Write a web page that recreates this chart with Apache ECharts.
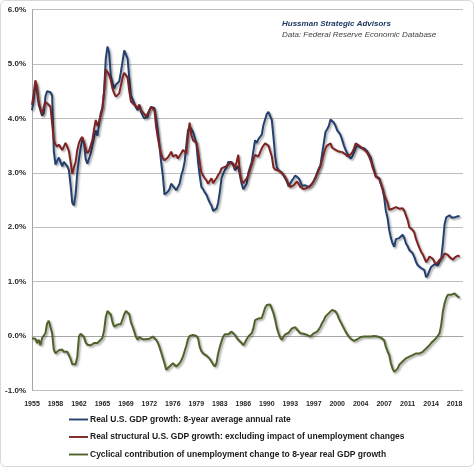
<!DOCTYPE html>
<html>
<head>
<meta charset="utf-8">
<script src="https://cdn.jsdelivr.net/npm/echarts@6/dist/echarts.min.js"></script>
<style>html,body{margin:0;padding:0;background:#fff}#chart{width:474px;height:467px}</style>
</head>
<body>
<div id="chart"></div>
<script>
// Quarterly categories 1955Q1 .. 2019Q2 (data through 2018Q4)
const firstYear = 1955, lastYear = 2019;
const quarters = [];
for (let y = firstYear; y <= lastYear; y++) {
  for (let q = 1; q <= 4; q++) {
    if (y === lastYear && q > 2) break;
    quarters.push(y + ' Q' + q);
  }
}

// Real U.S. GDP growth: 8-year average annual rate (%), quarterly 1955Q1-2018Q4
const gdpGrowth8y = [
  4.15, 4.35, 4.65, 4.5,   4.25, 4.15, 4.05, 4.1,   4.4, 4.5, 4.5, 4.48,    4.42, 3.4, 3.15, 3.22,
  3.28, 3.25, 3.12, 3.2,   3.22, 3.12, 3.05, 2.78,  2.45, 2.4, 2.6, 3.0,    3.25, 3.45, 3.62, 3.55,
  3.25, 3.17, 3.2, 3.35,   3.5, 3.65, 3.78, 3.68,   3.9, 4.1, 4.2, 4.5,     5.1, 5.32, 5.2, 4.78,
  4.65, 4.55, 4.62, 4.65,  4.68, 4.85, 5.05, 5.25,  5.28, 5.1, 4.75, 4.42,  4.35, 4.28, 4.2, 4.15,
  4.25, 4.12, 4.05, 4.0,   3.97, 4.03, 4.15, 4.21,  4.2, 4.19, 4.0, 3.78,   3.5, 3.2, 2.95, 2.6,
  2.58, 2.65, 2.7, 2.8,    2.78, 2.72, 2.68, 2.7,   2.8, 2.95, 3.05, 3.2,   3.5, 3.78, 3.85, 3.8,
  3.75, 3.65, 3.55, 3.2,   2.95, 2.74, 2.7, 2.64,   2.6, 2.52, 2.45, 2.4,   2.3, 2.3, 2.34, 2.45,
  2.65, 2.9, 2.98, 3.05,   3.1, 3.2, 3.23, 3.2,     3.14, 3.05, 3.08, 3.12, 2.95, 2.8, 2.7, 2.68,
  2.8, 3.0, 3.1, 3.2,      3.4, 3.6, 3.55, 3.62,    3.66, 3.7, 3.88, 3.98,  4.08, 4.12, 4.1, 3.97,
  3.65, 3.3, 3.1, 3.05,    3.02, 3.0, 2.99, 2.9,    2.84, 2.75, 2.72, 2.86, 2.9, 2.95, 2.98, 2.9,
  2.84, 2.76, 2.74, 2.77,  2.76, 2.74, 2.76, 2.8,   2.85, 2.92, 3.0, 3.08,  3.14, 3.35, 3.55, 3.75,
  3.8, 3.86, 3.98, 3.95,   3.92, 3.86, 3.78, 3.74,  3.69, 3.6, 3.5, 3.42,   3.36, 3.3, 3.26, 3.3,
  3.33, 3.45, 3.5, 3.48,   3.46, 3.45, 3.45, 3.42,  3.39, 3.33, 3.28, 3.15, 3.05, 2.93, 2.92, 2.9,
  2.8, 2.7, 2.55, 2.3,     2.17, 1.95, 1.8, 1.7,    1.64, 1.78, 1.77, 1.8,  1.83, 1.86, 1.8, 1.7,
  1.65, 1.58, 1.56, 1.52,  1.45, 1.36, 1.3, 1.27,   1.25, 1.23, 1.21, 1.08, 1.12, 1.2, 1.27, 1.3,
  1.32, 1.34, 1.3, 1.28,   1.42, 1.7, 2.05, 2.18,   2.2, 2.22, 2.18, 2.17,  2.18, 2.19, 2.2, 2.2
];

// Real structural U.S. GDP growth (%), quarterly 1955Q1-2018Q4
const structuralGrowth = [
  4.25, 4.45, 4.7, 4.58,   4.3, 4.18, 4.08, 4.2,    4.3, 4.28, 4.25, 4.21,  4.2, 3.6, 3.52, 3.48,
  3.52, 3.55, 3.42, 3.48,  3.55, 3.48, 3.4, 3.2,    2.98, 3.1, 3.2, 3.42,   3.55, 3.62, 3.66, 3.55,
  3.45, 3.36, 3.4, 3.5,    3.6, 3.8, 3.97, 3.86,    3.95, 4.05, 4.18, 4.5,  4.9, 4.92, 4.8, 4.7,
  4.55, 4.46, 4.4, 4.37,   4.46, 4.6, 4.75, 4.84,   4.85, 4.75, 4.5, 4.31,  4.28, 4.25, 4.22, 4.19,
  4.25, 4.15, 4.12, 4.08,  4.03, 4.06, 4.15, 4.21,  4.18, 4.15, 3.85, 3.65, 3.48, 3.35, 3.27, 3.23,
  3.2, 3.28, 3.33, 3.39,   3.3, 3.3, 3.33, 3.26,    3.25, 3.36, 3.42, 3.42, 3.36, 3.69, 3.92, 3.7,
  3.6, 3.6, 3.55, 3.4,     3.2, 3.0, 2.99, 2.9,     2.86, 2.8, 2.82, 2.9,   2.81, 2.86, 2.9, 2.96,
  3.0, 3.08, 3.1, 3.11,    3.12, 3.14, 3.18, 3.2,   3.17, 3.08, 3.2, 3.33,  3.0, 2.85, 2.81, 2.84,
  2.9, 2.95, 3.05, 3.15,   3.25, 3.33, 3.36, 3.3,   3.33, 3.45, 3.5, 3.54,  3.52, 3.5, 3.4, 3.3,
  3.1, 3.06, 3.05, 3.04,   3.02, 3.0, 2.99, 2.92,   2.86, 2.78, 2.74, 2.76, 2.77, 2.8, 2.84, 2.8,
  2.74, 2.72, 2.7, 2.68,   2.72, 2.74, 2.76, 2.8,   2.85, 2.9, 2.98, 3.05,  3.12, 3.24, 3.35, 3.45,
  3.5, 3.53, 3.54, 3.46,   3.44, 3.42, 3.4, 3.39,   3.4, 3.38, 3.36, 3.34,  3.3, 3.31, 3.34, 3.38,
  3.45, 3.54, 3.52, 3.5,   3.47, 3.45, 3.45, 3.4,   3.36, 3.3, 3.22, 3.11,  3.02, 2.93, 2.93, 2.9,
  2.8, 2.72, 2.6, 2.52,    2.45, 2.32, 2.32, 2.34,  2.36, 2.37, 2.39, 2.34, 2.34, 2.35, 2.3, 2.28,
  2.13, 2.0, 1.97, 1.95,   1.9, 1.78, 1.7, 1.62,    1.55, 1.5, 1.43, 1.36,  1.4, 1.46, 1.49, 1.42,
  1.36, 1.32, 1.36, 1.4,   1.38, 1.45, 1.52, 1.51,  1.49, 1.45, 1.42, 1.4,  1.44, 1.47, 1.48, 1.46
];

// Cyclical contribution of unemployment change (%), quarterly 1955Q1-2018Q4
const cyclicalContribution = [
  -0.04, -0.01, -0.05, -0.13,  -0.07, -0.17, -0.04, -0.01,  0.05, 0.23, 0.28, 0.25,     0.05, -0.25, -0.32, -0.3,
  -0.26, -0.24, -0.25, -0.29,  -0.29, -0.29, -0.32, -0.42,  -0.52, -0.54, -0.52, -0.38,  -0.01, 0.04, 0.06, -0.02,
  -0.12, -0.16, -0.17, -0.17,  -0.16, -0.13, -0.12, -0.13,  -0.1, -0.07, -0.03, 0.1,     0.35, 0.46, 0.45, 0.39,
  0.25, 0.17, 0.2, 0.21,       0.2, 0.22, 0.25, 0.4,        0.46, 0.47, 0.4, 0.25,      0.17, 0.08, -0.02, -0.07,
  -0.02, -0.05, -0.06, -0.06,  -0.06, -0.06, -0.05, -0.05,  -0.01, -0.03, -0.07, -0.12,  -0.2, -0.3, -0.4, -0.5,
  -0.62, -0.6, -0.56, -0.53,   -0.5, -0.53, -0.56, -0.54,   -0.5, -0.45, -0.38, -0.28,   -0.18, -0.06, 0.0, 0.02,
  0.02, 0.02, 0.0, -0.04,      -0.2, -0.28, -0.32, -0.35,   -0.36, -0.38, -0.42, -0.47,  -0.52, -0.56, -0.5, -0.32,
  -0.2, -0.1, -0.01, 0.03,     0.05, 0.03, 0.05, 0.08,      0.05, 0.02, -0.03, -0.07,    -0.1, -0.13, -0.17, -0.12,
  -0.06, -0.01, 0.02, 0.05,    0.14, 0.29, 0.3, 0.32,       0.32, 0.33, 0.42, 0.52,      0.57, 0.6, 0.58, 0.55,
  0.42, 0.3, 0.15, 0.05,       -0.03, -0.07, -0.01, 0.03,   0.05, 0.06, 0.08, 0.14,      0.15, 0.16, 0.12, 0.09,
  0.05, 0.05, 0.04, 0.03,      0.02, 0.0, -0.01, 0.01,      0.05, 0.06, 0.08, 0.12,      0.17, 0.24, 0.29, 0.36,
  0.39, 0.42, 0.45, 0.48,      0.49, 0.45, 0.4, 0.32,       0.26, 0.2, 0.14, 0.08,       0.03, -0.01, -0.05, -0.07,
  -0.09, -0.1, -0.06, -0.03,   -0.02, -0.01, -0.01, -0.01,  -0.01, -0.01, -0.01, -0.01,  0.0, 0.0, -0.01, -0.02,
  -0.03, -0.05, -0.08, -0.2,   -0.28, -0.35, -0.5, -0.6,    -0.66, -0.64, -0.6, -0.53,   -0.5, -0.47, -0.44, -0.41,
  -0.4, -0.38, -0.36, -0.35,   -0.33, -0.32, -0.32, -0.32,  -0.3, -0.29, -0.26, -0.23,   -0.2, -0.17, -0.13, -0.1,
  -0.07, -0.04, 0.0, 0.05,     0.2, 0.45, 0.6, 0.7,         0.76, 0.77, 0.76, 0.76,      0.78, 0.75, 0.72, 0.71
];

const seriesNames = [
  'Real U.S. GDP growth: 8-year average annual rate',
  'Real structural U.S. GDP growth: excluding impact of unemployment changes',
  'Cyclical contribution of unemployment change to 8-year real GDP growth'
];
const sourceLines = ['Hussman Strategic Advisors', 'Data: Federal Reserve Economic Database'];
const colors = ['#23406f', '#7e2222', '#4f6228'];

const chart = echarts.init(document.getElementById('chart'), null, {renderer: 'canvas'});
const font = 'Liberation Sans';
const shadow = {shadowColor: 'rgba(0,0,0,0.35)', shadowBlur: 2, shadowOffsetX: 1.5, shadowOffsetY: 1.5};

function lineSeries(name, data, color) {
  return {
    name: name, type: 'line', data: data, symbol: 'none', showSymbol: false,
    lineStyle: Object.assign({color: color, width: 2}, shadow),
    itemStyle: {color: color},
    emphasis: {disabled: true}, animation: false
  };
}

chart.setOption({
  animation: false,
  backgroundColor: '#ffffff',
  grid: {left: 32, right: 11, top: 9.6, bottom: 76.6, containLabel: false},
  xAxis: {
    type: 'category', data: quarters, boundaryGap: false,
    axisLine: {show: true, lineStyle: {color: '#a6a6a6', width: 1}},
    axisTick: {show: false},
    axisLabel: {
      interval: 13, color: '#262626', fontFamily: font, fontSize: 7, fontWeight: 'bold', margin: 10,
      formatter: v => v.slice(0, 4)
    },
    splitLine: {show: false}
  },
  yAxis: {
    type: 'value', min: -1, max: 6, interval: 1,
    axisLine: {show: true, lineStyle: {color: '#a6a6a6', width: 1}},
    axisTick: {show: false},
    axisLabel: {color: '#262626', fontFamily: font, fontSize: 8, fontWeight: 'bold', margin: 6,
      formatter: v => v.toFixed(1) + '%'},
    splitLine: {show: true, lineStyle: {color: '#bfbfbf', width: 1}}
  },
  legend: {
    orient: 'vertical', left: 69, top: 415, height: 80, itemWidth: 19, itemHeight: 10, itemGap: 8.5,
    padding: 0,
    icon: 'path://M0,0 L10,0 L10,1 L0,1 Z',
    textStyle: {color: '#1a1a1a', fontFamily: font, fontSize: 8.5, fontWeight: 'bold', padding: [0, 0, 0, -3]},
    data: seriesNames.map((n, i) => ({name: n, itemStyle: {color: colors[i]}}))
  },
  graphic: [
    {type: 'text', left: 282, top: 20, style: {text: sourceLines[0], fill: '#1f3864', font: 'italic bold 8px "Liberation Sans"'}},
    {type: 'text', left: 282, top: 31, style: {text: sourceLines[1], fill: '#404040', font: 'italic 8px "Liberation Sans"'}},
    {type: 'rect', shape: {x: 0.5, y: 0.5, width: 473, height: 466, r: 5}, style: {fill: 'none', stroke: '#d9d9d9', lineWidth: 1}, silent: true}
  ],
  series: [
    lineSeries(seriesNames[0], gdpGrowth8y, colors[0]),
    lineSeries(seriesNames[1], structuralGrowth, colors[1]),
    lineSeries(seriesNames[2], cyclicalContribution, colors[2])
  ]
});
</script>
</body>
</html>
